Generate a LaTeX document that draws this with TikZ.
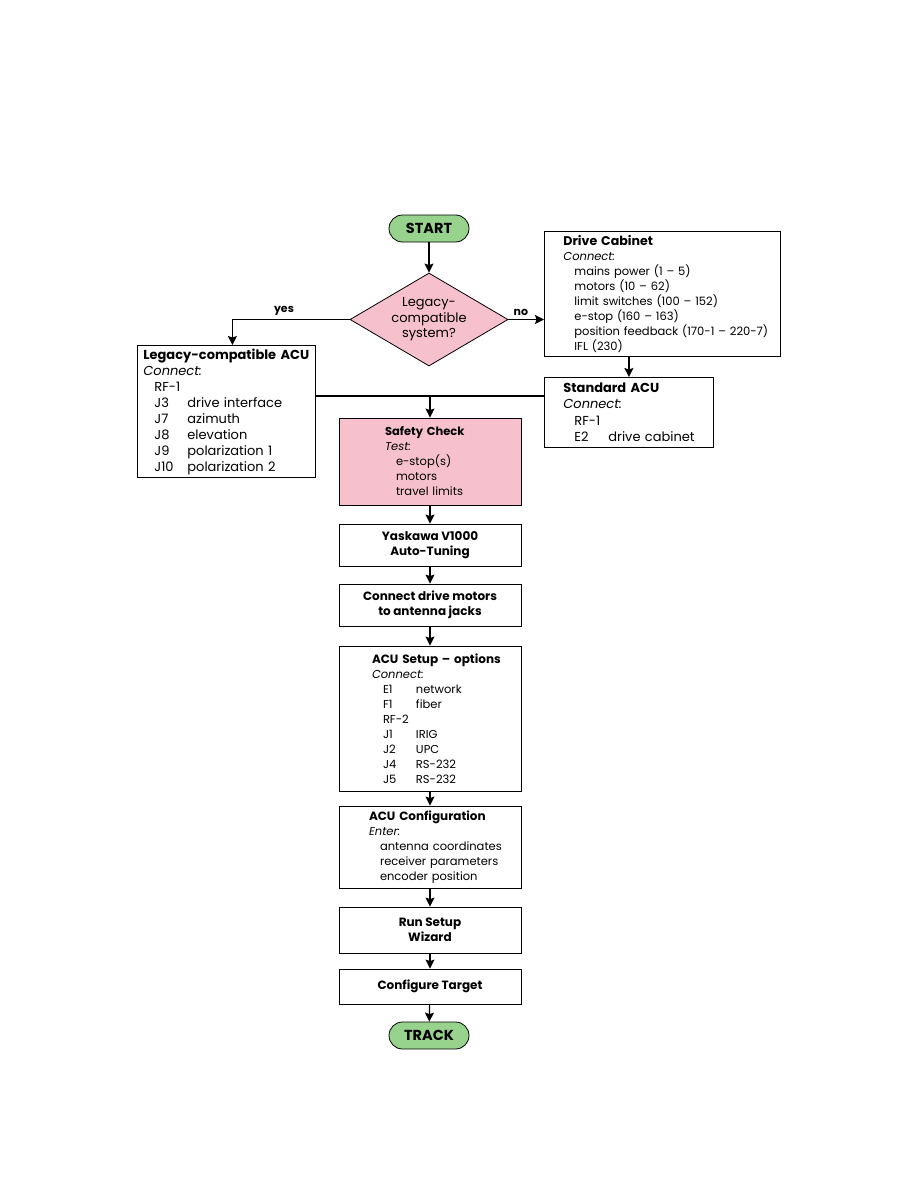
\documentclass[tikz,border=0pt]{standalone}
\usepackage{fontspec}
\setmainfont{Poppins}
\usetikzlibrary{positioning,shapes.geometric,arrows.meta}
\definecolor{termgreen}{RGB}{152,211,142}
\definecolor{checkpink}{RGB}{246,193,204}
% box heading and indented list lines (kept on one line each)
\newcommand{\boxhead}[2][11.5]{\mbox{\bfseries\fontsize{#1}{15}\selectfont #2}}
\newcommand{\listline}[1]{\mbox{\hspace*{11pt}#1}}
\newcommand{\portline}[3][33pt]{\mbox{\hspace*{11pt}\makebox[#1][l]{#2}#3}}

\begin{document}
\begin{tikzpicture}[x=1pt, y=-1pt,
    every node/.style={font=\fontsize{11.5}{15}\selectfont},
    arrow/.style={-{Stealth[length=9pt,width=9pt,inset=1.5pt]}, line width=1.2pt},
    terminal/.style={draw, line width=0.8pt, fill=termgreen, rounded corners=13.5pt,
      minimum width=80pt, minimum height=27pt, inner sep=0pt,
      font=\bfseries\fontsize{14.5}{15}\selectfont},
    decision/.style={diamond, draw, line width=0.8pt, fill=checkpink, aspect=1.7,
      minimum width=158pt, minimum height=93pt, inner sep=0pt, align=center,
      font=\fontsize{13}{15.5}\selectfont},
    listbox/.style={draw, line width=0.8pt, fill=white, anchor=north west, align=left},
    stepbox/.style={draw, line width=0.8pt, fill=white, minimum width=182pt,
      align=center, font=\bfseries\fontsize{12}{15}\selectfont},
    setupbox/.style={draw, line width=0.8pt, fill=white, align=left},
    branchlabel/.style={above, font=\bfseries\fontsize{11}{12}\selectfont}]
  \useasboundingbox (0,0) rectangle (918,1188);

  \node[terminal] (start) at (429,228.5) {START};
  \node[decision] (legacy) at (429,319.5) {Legacy-\\compatible\\system?};

  \node[listbox, inner xsep=19pt, text width=198pt, minimum height=125pt] (cabinet) at (544,231)
    {\boxhead[12.6]{Drive Cabinet}\\
     \textit{Connect:}\\
     \listline{mains power (1 – 5)}\\
     \listline{motors (10 – 62)}\\
     \listline{limit switches (100 – 152)}\\
     \listline{e-stop (160 – 163)}\\
     \listline{position feedback (170-1 – 220-7)}\\
     \listline{IFL (230)}};
  \node[listbox, inner xsep=19pt, text width=131pt, minimum height=70pt,
    font=\fontsize{13}{16.5}\selectfont] (standard) at (544,377)
    {\boxhead[13]{Standard ACU}\\
     \textit{Connect:}\\
     \listline{RF-1}\\
     \portline[34pt]{E2}{drive cabinet}};
  \node[listbox, inner xsep=6pt, text width=166pt, minimum height=132pt,
    font=\fontsize{13}{16}\selectfont] (legacyacu) at (137,345)
    {\boxhead[13]{Legacy-compatible ACU}\\
     \textit{Connect:}\\
     \listline{RF-1}\\
     \portline{J3}{drive interface}\\
     \portline{J7}{azimuth}\\
     \portline{J8}{elevation}\\
     \portline{J9}{polarization 1}\\
     \portline{J10}{polarization 2}};

  \coordinate (merge) at (430,396);

  \node[setupbox, fill=checkpink, inner xsep=46pt, text width=90pt, minimum height=87pt]
    (safety) at (430,461.5)
    {\boxhead{Safety Check}\\
     \textit{Test:}\\
     \listline{e-stop(s)}\\
     \listline{motors}\\
     \listline{travel limits}};
  \node[stepbox, minimum height=42pt] (yaskawa) at (430,545) {Yaskawa V1000\\Auto-Tuning};
  \node[stepbox, minimum height=42pt] (motors) at (430,605) {Connect drive motors\\to antenna jacks};
  \node[setupbox, inner xsep=33pt, text width=116pt, minimum height=145pt]
    (setup) at (430,718.5)
    {\boxhead[12]{ACU Setup – options}\\
     \textit{Connect:}\\
     \portline{E1}{network}\\
     \portline{F1}{fiber}\\
     \listline{RF-2}\\
     \portline{J1}{IRIG}\\
     \portline{J2}{UPC}\\
     \portline{J4}{RS-232}\\
     \portline{J5}{RS-232}};
  \node[setupbox, inner xsep=30pt, text width=122pt, minimum height=82pt]
    (config) at (430,847)
    {\boxhead[12]{ACU Configuration}\\
     \textit{Enter:}\\
     \listline{antenna coordinates}\\
     \listline{receiver parameters}\\
     \listline{encoder position}};
  \node[stepbox, minimum height=46pt] (wizard) at (430,930) {Run Setup\\Wizard};
  \node[stepbox, minimum height=35pt] (target) at (430,986.5) {Configure Target};
  \node[terminal] (track) at (429,1035.5) {TRACK};

  % decision branches
  \draw[arrow] (start) -- (legacy);
  \draw[arrow] (legacy.east) -- node[pos=0.35, branchlabel] {no}
    (legacy.east -| cabinet.west);
  \draw[arrow] (legacy.west) -| node[pos=0.28, branchlabel] {yes}
    ([xshift=6pt]legacyacu.north);
  \draw[arrow] (standard.north |- cabinet.south) -- (standard.north);

  % both ACUs join before the safety check
  \draw[line width=1.2pt] (legacyacu.east |- merge) -- (standard.west |- merge);
  \draw[arrow] (merge) -- (safety);

  \foreach \a/\b in {safety/yaskawa, yaskawa/motors, motors/setup, setup/config,
                     config/wizard, wizard/target, target/track}
    \draw[arrow] (\a) -- (\b);
\end{tikzpicture}
\end{document}
